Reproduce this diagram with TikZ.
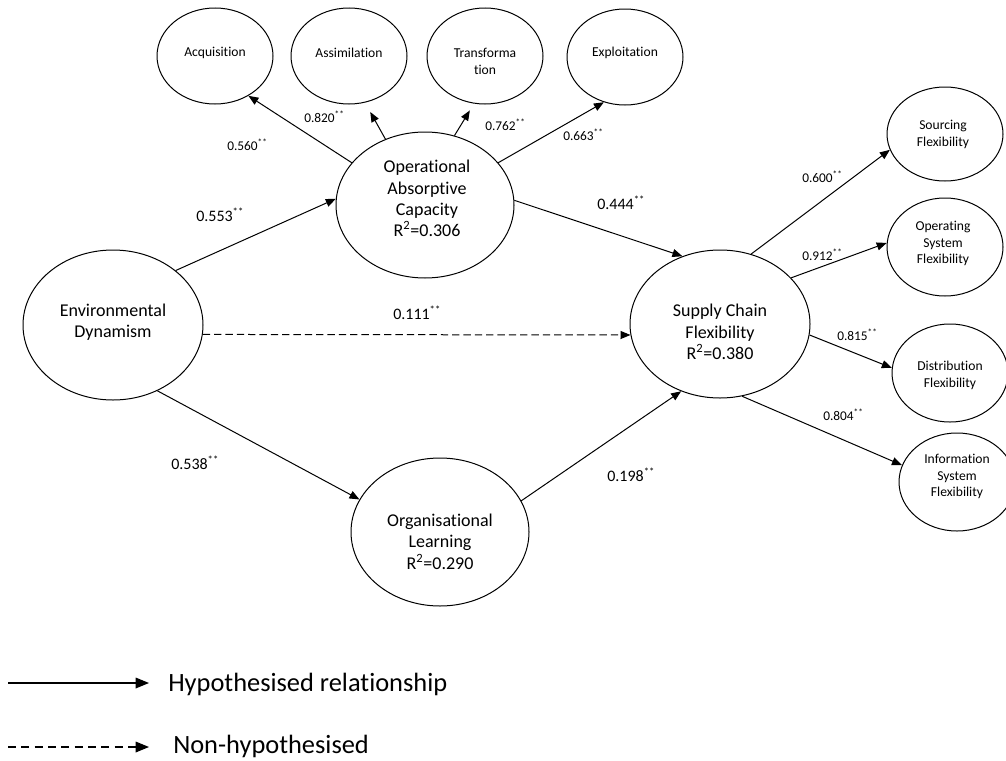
\documentclass[tikz,border=0pt]{standalone}
\usepackage{fontspec}
\setmainfont{Carlito}[Ligatures=CommonOff]
\usetikzlibrary{arrows.meta,shapes.geometric}

\begin{document}
\begin{tikzpicture}[x=0.75pt,y=-0.75pt,
  oval/.style={draw, ellipse, line width=0.75pt, inner sep=0pt},
  bigoval/.style={oval, minimum width=134pt, minimum height=111pt},
  smalloval/.style={oval, minimum width=87pt, minimum height=72pt},
  bigtext/.style={align=center, inner sep=0pt, font=\fontsize{13.5}{16}\selectfont},
  smalltext/.style={align=center, inner sep=0pt, font=\fontsize{10.2}{12.6}\selectfont},
  coefbig/.style={anchor=west, inner sep=0pt, font=\fontsize{12}{14}\selectfont},
  coefsmall/.style={anchor=west, inner sep=0pt, font=\fontsize{10}{12}\selectfont},
  link/.style={line width=0.75pt, -{Triangle[length=7.5pt,width=6pt]}},
  nonhyp/.style={link, dash pattern=on 5.5pt off 3pt},
  legendtext/.style={anchor=west, inner sep=0pt, font=\fontsize{19.8}{22}\selectfont},
  legendarrow/.style={line width=0.9pt, -{Triangle[length=10pt,width=8pt]}}
]
\fill[white] (0,0) rectangle (1006,760);
\useasboundingbox (0,0) rectangle (1006,760);

% dimension ellipses
\node[smalloval] (acq) at (215,56) {};
\node[smalloval] (asm) at (349,56) {};
\node[smalloval] (trf) at (485,56) {};
\node[smalloval] (exp) at (625,57) {};

% constructs
\node[bigoval, minimum width=133.5pt, minimum height=109.5pt] (oac) at (425,205) {};
\node[bigoval, minimum width=135pt, minimum height=112.5pt] (ed) at (113,325) {};
\node[bigoval, minimum width=133.5pt, minimum height=111pt] (ol) at (440,532) {};
\node[bigoval, minimum width=135pt, minimum height=111pt] (scf) at (720,324) {};

% flexibility dimensions
\node[smalloval, minimum height=70.5pt] (src) at (945,134) {};
\node[smalloval, minimum height=73.5pt] (osf) at (945,247) {};
\node[smalloval, minimum height=73.5pt] (dsf) at (950,373) {};
\node[smalloval, minimum height=73.5pt] (isf) at (957,482) {};

% ellipse texts
\node[smalltext] (acqt) at (215,53) {Acquisition};
\node[smalltext] (asmt) at (349,53) {Assimilation};
\node[smalltext] (trft) at (485,61.5) {Transforma\\tion};
\node[smalltext] (expt) at (625,53) {Exploitation};

\node[bigtext] (oact) at (427,198.5) {Operational\\Absorptive\\Capacity\\R\textsuperscript{2}=0.306};
\node[bigtext] (edt) at (113,322.5) {Environmental\\Dynamism};
\node[bigtext] (olt) at (440,541.5) {Organisational\\Learning\\R\textsuperscript{2}=0.290};
\node[bigtext] (scft) at (720,332) {Supply Chain\\Flexibility\\R\textsuperscript{2}=0.380};

\node[smalltext] (srct) at (943,134.5) {Sourcing\\Flexibility};
\node[smalltext] (osft) at (943,243.5) {Operating\\System\\Flexibility};
\node[smalltext] (dsft) at (950,375) {Distribution\\Flexibility};
\node[smalltext] (isft) at (957,476.5) {Information\\System\\Flexibility};

% loadings of operational absorptive capacity
\draw[link] (oac.150.2) -- (acq.-50);
\draw[link, shorten >=8pt] (oac.121.6) -- (asm.-71);
\draw[link, shorten >=6pt] (oac.67.4) -- (trf.-103.5);
\draw[link] (oac.30.3) -- (exp.-115);

% structural paths
\draw[link] (ed.41.2) -- (oac.176.8);
\draw[link] (ed.-56.1) -- (ol.158);
\draw[nonhyp] (ed.-6.3) -- (scf.-173);
\draw[link] (oac.3.7) -- (scf.119.6);
\draw[link] (ol.21.1) -- (scf.-120.1);

% loadings of supply chain flexibility
\draw[link] (scf.66.6) -- (src.-164.7);
\draw[link] (scf.33.7) -- (osf.176);
\draw[link] (scf.-7.8) -- (dsf.175);
\draw[link] (scf.-73.4) -- (isf.163);

% coefficients
\node[coefsmall] (c560) at (227,145) {0.560\textsuperscript{**}};
\node[coefsmall] (c820) at (304,117) {0.820\textsuperscript{**}};
\node[coefsmall] (c762) at (485,125) {0.762\textsuperscript{**}};
\node[coefsmall] (c663) at (563,135) {0.663\textsuperscript{**}};

\node[coefbig] (c553) at (196,215) {0.553\textsuperscript{**}};
\node[coefbig] (c538) at (171,463) {0.538\textsuperscript{**}};
\node[coefbig] (c111) at (393,313) {0.111\textsuperscript{**}};
\node[coefbig] (c444) at (597,203) {0.444\textsuperscript{**}};
\node[coefbig] (c198) at (607,475) {0.198\textsuperscript{**}};

\node[coefsmall] (c600) at (802,177) {0.600\textsuperscript{**}};
\node[coefsmall] (c912) at (802,255) {0.912\textsuperscript{**}};
\node[coefsmall] (c815) at (837,335) {0.815\textsuperscript{**}};
\node[coefsmall] (c804) at (823,415) {0.804\textsuperscript{**}};

% legend
\coordinate (h1) at (8,683);
\coordinate (h2) at (149,683);
\draw[legendarrow] (h1) -- (h2);
\node[legendtext] (hl) at (168,684) {Hypothesised relationship};
\coordinate (n1) at (8,747);
\coordinate (n2) at (149,747);
\draw[legendarrow, dash pattern=on 6pt off 4pt] (n1) -- (n2);
\node[legendtext] (nl) at (173,746) {Non-hypothesised};
\end{tikzpicture}
\end{document}
